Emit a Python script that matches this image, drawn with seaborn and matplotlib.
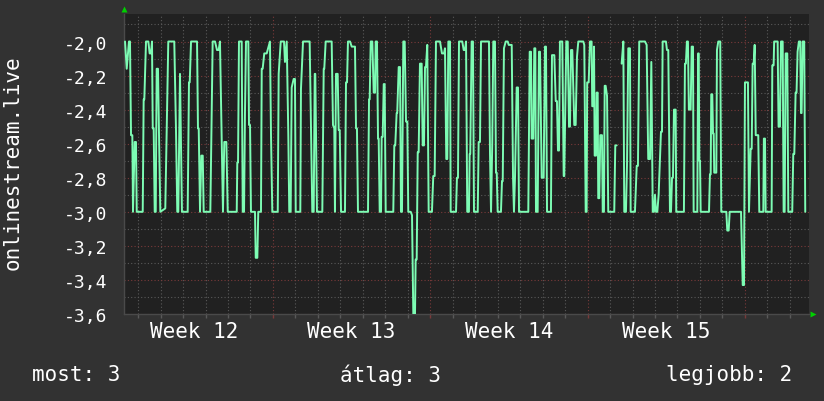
import numpy as np
import pandas as pd
import matplotlib
matplotlib.use("Agg")
import matplotlib.pyplot as plt
import seaborn as sns
from matplotlib.ticker import FixedLocator, MultipleLocator

# hours since the start of the graph window, and the value at each hour
hours = [
    1.1, 2.9, 5.3, 6.4, 7.5, 8.9, 9.6, 11.4, 12.8, 13.6,
    20.0, 21.0, 21.7, 23.5, 26.0, 27.4, 28.8, 29.9, 30.7, 31.7,
    32.8, 33.9, 34.9, 36.3, 37.4, 38.8, 44.1, 47.3, 53.7, 55.5,
    56.9, 58.0, 59.8, 61.9, 68.0, 69.4, 70.2, 71.6, 78.0, 79.0,
    79.8, 81.2, 82.6, 84.1, 85.1, 92.2, 94.7, 97.2, 99.3, 101.1,
    102.5, 104.3, 105.7, 107.1, 109.3, 110.8, 120.4,
    121.0, 121.8, 122.8, 125.7, 126.8, 128.2, 129.2, 130.3, 132.8, 133.5,
    134.6, 135.6, 139.9, 140.7, 142.4, 143.4, 146.3, 147.1, 148.1, 149.8,
    152.4, 155.9, 157.0, 158.4, 164.2, 165.2, 167.4, 170.9, 171.9, 173.8,
    175.5, 176.5, 178.0, 179.1, 181.2, 182.6, 183.4, 188.3, 189.0, 191.2,
    198.3, 199.7, 201.1, 202.6, 203.7, 204.3, 206.1, 211.8, 213.3, 213.9,
    215.4, 221.8, 223.2, 224.6, 225.3, 226.4, 228.2, 229.3, 230.4, 231.8,
    236.0, 237.1, 238.2, 239.2, 241.4, 243.2,
    246.7, 247.8, 248.8, 249.9, 260.6, 261.7, 262.4, 263.5, 265.2, 266.7,
    268.1, 268.8, 270.2, 271.3, 272.0, 273.1, 274.5, 275.2, 276.3, 277.4,
    278.4, 279.5, 287.6, 288.7, 289.7, 291.2, 291.8, 293.4, 294.8, 295.8,
    296.9, 298.3, 299.8, 301.2, 302.6, 303.6, 306.2, 307.6, 309.0, 310.8,
    311.5, 312.6, 313.7, 314.7, 316.1, 317.9, 319.0, 320.4, 321.5, 322.5,
    323.9, 325.4, 328.9, 330.3, 331.8, 333.2, 337.5, 339.6, 341.8, 342.8,
    344.2, 345.3, 346.4, 348.2, 348.9, 354.6, 355.6, 356.7, 357.8, 361.3,
    362.8, 364.2, 365.3, 366.6,
    368.4, 369.2, 369.8, 371.3, 372.7, 373.8, 377.8, 378.8, 380.2, 381.3,
    389.8, 390.9, 392.0, 393.3, 394.4, 396.2, 397.3, 398.1, 399.1, 402.6,
    403.7, 404.5, 405.8, 407.7, 409.8, 410.9, 414.1, 415.5, 416.5, 417.6,
    419.4, 420.8, 421.9, 431.8, 433.3, 434.7, 435.4, 437.1, 438.2, 439.3,
    440.0, 441.8, 443.2, 444.3, 446.1, 448.2, 449.6, 450.7, 451.8, 456.0,
    457.1, 459.6, 461.1, 462.4, 463.5, 464.6, 465.6, 468.1, 469.6, 470.2,
    472.4, 473.9, 475.3, 476.3, 477.4, 478.8, 480.9, 482.4, 483.8, 485.2,
    489.5,
    490.5, 491.6, 493.1, 494.1, 494.7, 496.3, 497.7, 499.4, 500.1, 501.2,
    502.0, 502.7, 504.1, 504.8, 505.9, 506.5, 507.6, 508.7, 510.5, 511.3,
    512.6, 513.4, 514.4, 515.9, 517.2, 523.6, 524.7, 526.2, 529.0, 531.5,
    533.3, 534.3, 536.1, 537.2, 538.6, 540.4, 541.1, 545.7, 547.6, 548.9,
    550.3, 556.4, 558.2, 559.9, 561.8, 563.2, 564.7, 566.0, 567.1, 568.2,
    569.6, 571.0, 573.5, 574.6, 575.3, 578.8, 579.9, 581.3, 583.1, 584.2,
    585.3, 586.3, 587.4, 589.2, 589.8, 598.0, 599.1, 600.1, 601.2, 602.3,
    603.3, 605.2, 606.3, 607.7, 608.4, 612.3,
    613.2, 613.8, 614.5, 615.2, 615.9, 624.8, 625.8, 626.6, 627.2, 628.3,
    629.1, 629.8, 630.4, 632.6, 633.3, 634.7, 636.8, 637.9, 643.3, 644.3,
    645.8, 646.9, 659.0, 660.8, 662.2, 663.2, 666.4, 667.5, 669.3, 670.4,
    671.4, 672.5, 673.6, 674.7, 677.4, 678.5, 682.8, 683.4, 684.6, 685.3,
    691.7, 692.4, 693.8, 694.4, 698.1, 699.1, 700.6, 701.7, 703.5, 704.5,
    705.6, 706.7, 708.4, 709.5, 713.7, 714.8, 715.9, 717.3, 718.3, 719.4,
    720.8, 722.2, 723.0, 723.7, 724.8, 726.5, 727.6,
]
values = [
    -2.0, -2.16, -2.0, -2.0, -2.55, -2.55, -3.0, -2.59, -2.59, -3.0,
    -3.0, -2.34, -2.34, -2.0, -2.0, -2.07, -2.07, -2.0, -2.51, -2.51,
    -3.0, -3.0, -2.16, -2.16, -2.55, -3.0, -2.98, -2.0, -2.0, -2.51,
    -3.0, -3.0, -2.19, -3.0, -3.0, -2.24, -2.24, -2.0, -2.0, -2.51,
    -2.51, -3.0, -2.67, -2.67, -3.0, -3.0, -2.0, -2.0, -2.05, -2.05,
    -2.0, -2.55, -3.0, -2.59, -2.59, -3.0, -3.0,
    -2.71, -2.71, -2.0, -2.0, -3.0, -3.0, -2.42, -2.0, -2.0, -2.49,
    -2.49, -3.0, -3.0, -3.27, -3.27, -3.0, -3.0, -2.16, -2.16, -2.07,
    -2.07, -2.0, -2.55, -3.0, -3.0, -2.19, -2.0, -2.0, -2.12, -2.0,
    -2.55, -3.0, -3.0, -2.27, -2.22, -2.22, -3.0, -3.0, -2.28, -2.0,
    -2.0, -2.51, -3.0, -3.0, -2.19, -2.19, -3.0, -3.0, -2.16, -2.16,
    -2.0, -2.0, -2.49, -2.51, -3.0, -2.19, -2.19, -2.52, -2.52, -3.0,
    -3.0, -2.24, -2.24, -2.0, -2.0, -2.03,
    -2.03, -2.51, -2.51, -3.0, -3.0, -2.34, -2.34, -2.0, -2.0, -2.30,
    -2.30, -2.0, -2.0, -2.57, -2.57, -3.0, -3.0, -2.56, -2.56, -2.25,
    -2.25, -3.0, -3.0, -2.61, -2.61, -2.42, -2.42, -2.15, -2.15, -3.0,
    -3.0, -2.0, -2.0, -2.47, -2.47, -3.0, -3.0, -3.02, -3.6, -3.6,
    -3.28, -3.28, -2.65, -2.65, -2.13, -2.13, -2.61, -2.61, -2.15, -2.15,
    -2.02, -3.0, -3.0, -2.79, -2.79, -2.0, -2.0, -2.07, -2.07, -2.04,
    -2.69, -2.69, -2.0, -2.0, -3.0, -3.0, -2.80, -2.80, -2.0, -2.0,
    -2.05, -2.05, -2.0, -3.0,
    -3.0, -2.66, -2.66, -2.0, -2.0, -3.0, -3.0, -2.59, -2.59, -2.0,
    -2.0, -2.66, -3.0, -2.6, -2.0, -2.0, -2.77, -2.77, -3.0, -3.0,
    -2.82, -2.82, -2.04, -2.0, -2.0, -2.02, -2.02, -2.8, -3.0, -2.8,
    -2.27, -2.27, -3.0, -3.0, -2.06, -2.06, -2.57, -2.57, -2.04, -2.04,
    -3.0, -3.0, -2.06, -2.06, -2.8, -2.8, -2.03, -2.03, -3.0, -3.0,
    -2.08, -2.08, -2.35, -2.35, -2.64, -2.64, -2.0, -2.0, -2.79, -2.79,
    -2.0, -2.0, -2.5, -2.5, -2.05, -2.05, -2.49, -2.49, -2.09, -2.0,
    -2.0,
    -2.0, -2.02, -3.0, -3.0, -2.24, -2.24, -2.0, -2.0, -2.38, -2.38,
    -2.03, -2.67, -2.67, -2.3, -2.3, -2.92, -2.92, -2.55, -2.55, -3.0,
    -3.0, -2.26, -2.26, -2.32, -3.0, -3.0, -2.61, -2.61, np.nan, -2.13,
    -2.0, -3.0, -3.0, -2.73, -2.04, -2.04, -3.0, -3.0, -2.73, -2.73,
    -2.0, -2.0, -2.02, -2.69, -2.69, -2.12, -3.0, -3.0, -2.9, -3.0,
    -3.0, -2.9, -2.53, -2.53, -2.0, -2.0, -2.05, -2.05, -3.0, -3.0,
    -2.8, -2.8, -2.40, -2.40, -3.0, -3.0, -2.13, -2.13, -2.0, -2.0,
    -2.40, -2.40, -2.03, -2.03, -3.0, -3.0,
    -2.07, -2.07, -2.7, -2.7, -3.0, -3.0, -2.78, -2.78, -2.31, -2.31,
    -2.54, -2.54, -2.77, -2.77, -2.05, -2.0, -2.0, -3.0, -3.0, -3.11,
    -3.11, -3.0, -3.0, -3.43, -3.43, -2.24, -2.24, -3.0, -2.63, -2.63,
    -2.13, -2.13, -2.02, -2.55, -2.55, -3.0, -3.0, -2.57, -2.57, -3.0,
    -3.0, -2.14, -2.14, -2.0, -2.0, -2.5, -2.5, -2.0, -2.0, -3.0,
    -3.0, -2.07, -2.07, -3.0, -3.0, -2.66, -2.66, -2.3, -2.3, -2.06,
    -2.0, -2.0, -2.42, -2.42, -2.0, -2.0, -3.0,
]

week_labels = ["Week 12", "Week 13", "Week 14", "Week 15"]
week_starts = [159.1, 327.1, 495.1, 663.1]  # hours where a new week begins
y_ticks = [-3.6, -3.4, -3.2, -3.0, -2.8, -2.6, -2.4, -2.2, -2.0]
y_label = "onlinestream.live"
legend = [("most: 3", "left"), ("átlag: 3", "center"), ("legjobb: 2", "right")]

df = pd.DataFrame({"hour": hours, "value": values})
df["segment"] = df["value"].isna().cumsum()
df = df.dropna()

sns.set_theme(style="dark")
plt.rcParams["font.family"] = ["DejaVu Sans Mono", "DejaVu Sans"]

bg = "#323232"
plot_bg = "#212121"
fig = plt.figure(figsize=(8.24, 4.02), dpi=100, facecolor=bg)
ax = fig.add_axes([124 / 824, 87 / 402, 685 / 824, 300 / 402])
ax.set_facecolor(plot_bg)

# grid lines first so the data sits on top
x_end = 731.6
for d in np.arange(week_starts[0] - 6 * 24, x_end, 24):
    if not any(abs(d - w) < 1 for w in week_starts):
        ax.axvline(d, color="#5a5a5a", lw=0.8, ls=(0, (1, 2)), zorder=1)
for w in week_starts:
    ax.axvline(w, color="#7a3a3a", lw=0.8, ls=(0, (1, 2)), zorder=1)
for yv in np.arange(-3.5, -1.85, 0.2):
    ax.axhline(yv, color="#5a5a5a", lw=0.8, ls=(0, (1, 2)), zorder=1)
for yv in y_ticks:
    ax.axhline(yv, color="#7a3a3a", lw=0.8, ls=(0, (1, 2)), zorder=1)

sns.lineplot(data=df, x="hour", y="value", units="segment", estimator=None,
             sort=False, color="#7dfcb4", lw=1.4, ax=ax, zorder=3)

ax.set_xlim(0, x_end)
ax.set_ylim(-3.6, -1.8385)
ax.set_xlabel("")
ax.set_ylabel("")
ax.grid(False)

ax.set_yticks(y_ticks)
ax.set_yticklabels([f"{v:.1f}".replace(".", ",") for v in y_ticks])
ax.tick_params(axis="y", length=0, pad=12, labelsize=13, labelcolor="white")

ax.xaxis.set_major_locator(FixedLocator(week_starts))
ax.xaxis.set_minor_locator(MultipleLocator(24))
ax.xaxis.set_minor_locator(FixedLocator(np.arange(week_starts[0] - 6 * 24, x_end, 24)))
ax.set_xticklabels([])
ax.tick_params(axis="x", which="major", length=3, width=1, color="#7a3a3a", bottom=True)
ax.tick_params(axis="x", which="minor", length=3, width=1, color="#5a5a5a", bottom=True)

for w, lab in zip(week_starts, week_labels):
    ax.text(w - 84, -0.057, lab, transform=ax.get_xaxis_transform(),
            ha="center", va="center", color="white", fontsize=15)

for s in ["top", "right"]:
    ax.spines[s].set_visible(False)
for s in ["left", "bottom"]:
    ax.spines[s].set_color("#4a4a4a")
    ax.spines[s].set_linewidth(1)

# little green arrow heads at the axis ends
ax.plot([0], [1.017], marker="^", color="#00d000", ms=5, mec="none",
        transform=ax.transAxes, clip_on=False)
ax.plot([1.006], [0], marker=">", color="#00d000", ms=5, mec="none",
        transform=ax.transAxes, clip_on=False)

fig.text(13 / 824, 1 - 163 / 402, y_label, rotation=90, ha="center", va="center",
         color="white", fontsize=15)

xs = {"left": 32 / 824, "center": 390 / 824, "right": 792 / 824}
for txt, where in legend:
    fig.text(xs[where], 1 - 375 / 402, txt, ha=where, va="center",
             color="white", fontsize=15)

fig.savefig("out.png", dpi=100, facecolor=bg)
